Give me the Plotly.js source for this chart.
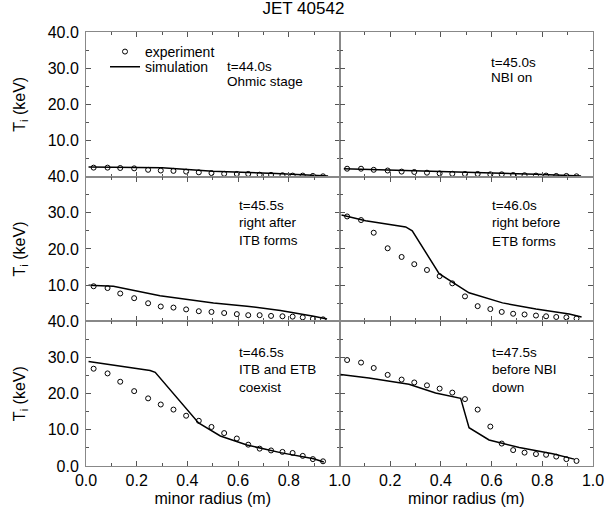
<!DOCTYPE html>
<html>
<head>
<meta charset="utf-8">
<script src="https://cdn.plot.ly/plotly-3.0.1.min.js"></script>
<style>html,body{margin:0;padding:0;background:#fff;}</style>
</head>
<body>
<div id="chart" style="width:608px;height:511px;"></div>
<script>
// minor radius (m) of the experimental points
const radiusExp = [0.03,0.085,0.135,0.19,0.245,0.295,0.345,0.395,0.445,0.495,0.545,0.595,0.64,0.685,0.73,0.775,0.815,0.855,0.895,0.935];

// experiment Ti (keV)
const exp440 = [2.5,2.5,2.4,2.3,1.9,1.7,1.6,1.4,1.2,1.0,0.8,0.75,0.75,0.55,0.5,0.4,0.3,0.3,0.2,0.1];
const exp450 = [2.2,2.2,1.9,1.7,1.4,1.3,1.1,0.9,0.8,0.75,0.75,0.65,0.65,0.45,0.4,0.3,0.3,0.2,0.2,0.1];
const exp455 = [9.7,9.2,7.7,6.4,5.0,4.1,3.8,3.3,2.8,2.6,2.3,2.0,1.7,1.7,1.5,1.4,1.3,1.1,0.7,0.55];
const exp460 = [29.0,28.0,24.5,20.2,17.8,15.8,14.2,12.5,10.5,6.9,4.2,3.4,2.6,2.1,1.9,1.6,1.4,1.2,1.1,0.8];
const exp465 = [26.9,25.6,23.3,20.7,18.7,17.0,15.6,13.9,12.5,10.8,9.1,7.6,5.9,4.8,4.3,3.9,3.6,2.8,1.9,1.3];
const exp475 = [29.3,28.6,27.1,25.2,23.9,23.1,22.3,21.4,20.3,18.5,15.6,10.9,6.2,4.4,3.7,3.3,3.1,2.6,1.9,1.4];

// simulation profiles
const simR440 = [0.01,0.17,0.3,0.5,0.75,0.955];
const simT440 = [2.7,2.7,2.5,1.5,0.9,0.2];
const simR450 = [0.017,0.182,0.379,0.577,0.775,0.953];
const simT450 = [2.2,1.9,1.5,1.1,0.65,0.2];
const simR455 = [0.01,0.108,0.292,0.503,0.635,0.767,0.898,0.951];
const simT455 = [10.0,9.7,7.1,5.1,4.2,3.0,1.4,0.65];
const simR460 = [0.008,0.103,0.261,0.287,0.393,0.511,0.643,0.775,0.906,0.955];
const simT460 = [29.4,27.8,26.1,25.0,13.2,7.9,5.1,3.4,2.0,1.2];
const simR465 = [0.01,0.253,0.273,0.444,0.53,0.635,0.767,0.898,0.938];
const simT465 = [28.9,26.4,25.9,11.9,8.3,5.8,3.7,2.0,1.1];
const simR475 = [0.004,0.116,0.274,0.379,0.478,0.511,0.59,0.709,0.841,0.926];
const simT475 = [25.3,24.3,22.6,20.2,18.7,10.6,7.2,5.1,3.4,1.9];

// panel captions, one array of lines per panel
const panelLines = [
  ["t=44.0s", "Ohmic stage"],
  ["t=45.0s", "NBI on"],
  ["t=45.5s", "right after", "ITB forms"],
  ["t=46.0s", "right before", "ETB forms"],
  ["t=46.5s", "ITB and ETB", "coexist"],
  ["t=47.5s", "before NBI", "down"]
];

const xTickLeft = [0,0.2,0.4,0.6,0.8,1.0];
const xTickRight = [0.2,0.4,0.6,0.8,1.0];
const yTickUpper = [10,20,30,40];
const yTickBottom = [0,10,20,30,40];

const exps = [exp440, exp450, exp455, exp460, exp465, exp475];
const simR = [simR440, simR450, simR455, simR460, simR465, simR475];
const simT = [simT440, simT450, simT455, simT460, simT465, simT475];

const FONT = 'Arial, "Liberation Sans", sans-serif';
const traces = [];
for (let i = 0; i < 6; i++) {
  const sfx = i === 0 ? '' : String(i + 1);
  traces.push({
    x: radiusExp, y: exps[i], type: 'scatter', mode: 'markers',
    xaxis: 'x' + sfx, yaxis: 'y' + sfx,
    name: 'experiment', showlegend: i === 0, legend: 'legend',
    marker: {symbol: 'circle-open', size: 5, color: '#000', line: {width: 1, color: '#000'}}
  });
  traces.push({
    x: simR[i], y: simT[i], type: 'scatter', mode: 'lines',
    xaxis: 'x' + sfx, yaxis: 'y' + sfx,
    name: 'simulation', showlegend: i === 0, legend: 'legend2',
    line: {color: '#000', width: 1.5}
  });
}

const layout = {
  width: 608, height: 511,
  margin: {l: 86, r: 15, t: 32, b: 45},
  paper_bgcolor: '#fff', plot_bgcolor: '#fff',
  font: {family: FONT, color: '#000', size: 15},
  title: {text: 'JET 40542', x: 0.499, xanchor: 'center', y: 0.985, yanchor: 'middle', font: {size: 17, family: FONT}},
  showlegend: true,
  legend: {x: 0.0375, y: 0.954, xanchor: 'left', yanchor: 'middle', bgcolor: 'rgba(0,0,0,0)',
           font: {size: 14, family: FONT}, itemwidth: 30},
  legend2: {x: 0.0375, y: 0.919, xanchor: 'left', yanchor: 'middle', bgcolor: 'rgba(0,0,0,0)',
           font: {size: 14, family: FONT}, itemwidth: 30},
  annotations: []
};

const rowDomains = [[2/3, 1], [1/3, 2/3], [0, 1/3]];
// caption placement (radius of left edge, Ti of each line centre)
const capX = [0.55, 0.588, 0.595, 0.593, 0.595, 0.593];
const capY = [
  [30.6, 26.4],
  [31.7, 27.4],
  [32.1, 27.2, 22.3],
  [32.1, 27.2, 22.2],
  [31.5, 26.8, 21.6],
  [31.3, 26.6, 21.6]
];
for (let i = 0; i < 6; i++) {
  const sfx = i === 0 ? '' : String(i + 1);
  const row = Math.floor(i / 2), col = i % 2;
  const bottom = row === 2;
  const xa = {
    domain: col === 0 ? [0, 0.5] : [0.5, 1],
    anchor: 'y' + sfx, range: [0, 1],
    showline: true, linecolor: '#888', linewidth: 1, mirror: 'ticks',
    ticks: 'inside', ticklen: 5, tickcolor: '#555',
    tickmode: 'array', tickvals: col === 0 ? xTickLeft : xTickRight, tickformat: '.1f',
    minor: {tickmode: 'linear', tick0: 0, dtick: 0.1, ticks: 'inside', ticklen: 3, tickcolor: '#555'},
    showticklabels: bottom, zeroline: false, showgrid: false,
    tickfont: {size: 16, family: FONT}
  };
  if (bottom) xa.title = {text: 'minor radius (m)', font: {size: 16, family: FONT}, standoff: 4};
  layout['xaxis' + sfx] = xa;
  const ya = {
    domain: rowDomains[row],
    anchor: 'x' + sfx, range: [0, 40],
    showline: true, linecolor: '#888', linewidth: 1, mirror: 'ticks',
    ticks: 'inside', ticklen: 5, tickcolor: '#555',
    tickmode: 'array', tickvals: bottom ? yTickBottom : yTickUpper, tickformat: '.1f',
    minor: {tickmode: 'linear', tick0: 0, dtick: 5, ticks: 'inside', ticklen: 3, tickcolor: '#555'},
    showticklabels: col === 0, zeroline: false, showgrid: false,
    ticklabelstandoff: 3,
    tickfont: {size: 16, family: FONT}
  };
  if (col === 0) ya.title = {text: 'T<sub>i</sub> (keV)', font: {size: 16, family: FONT}, standoff: 18};
  layout['yaxis' + sfx] = ya;
  panelLines[i].forEach((line, k) => {
    layout.annotations.push({
      xref: 'x' + sfx, yref: 'y' + sfx, x: capX[i], y: capY[i][k],
      xanchor: 'left', yanchor: 'middle', align: 'left', showarrow: false,
      text: line, font: {size: 13.5, family: FONT}
    });
  });
}

Plotly.newPlot('chart', traces, layout, {displayModeBar: false, staticPlot: true});
</script>
</body>
</html>
